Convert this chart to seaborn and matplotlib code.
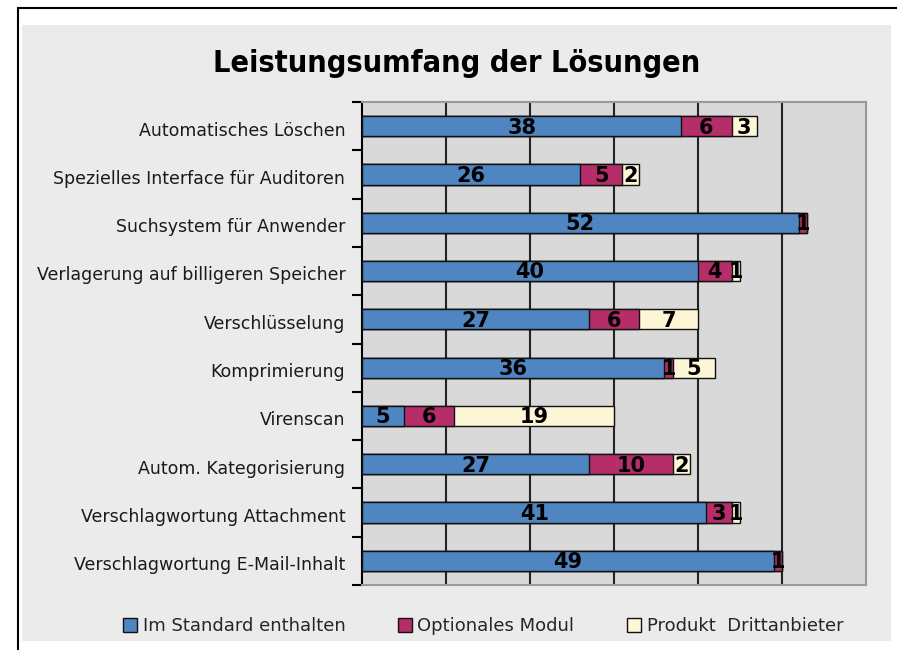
import numpy as np
import pandas as pd
import matplotlib
matplotlib.use('Agg')
import matplotlib.pyplot as plt
import seaborn as sns
from matplotlib.patches import Rectangle

# data
categories = ['Automatisches Löschen', 'Spezielles Interface für Auditoren',
              'Suchsystem für Anwender', 'Verlagerung auf billigeren Speicher',
              'Verschlüsselung', 'Komprimierung', 'Virenscan',
              'Autom. Kategorisierung', 'Verschlagwortung Attachment',
              'Verschlagwortung E-Mail-Inhalt']
standard = [38, 26, 52, 40, 27, 36, 5, 27, 41, 49]
optional = [6, 5, 1, 4, 6, 1, 6, 10, 3, 1]
drittanbieter = [3, 2, 0, 1, 7, 5, 19, 2, 1, 0]
series_names = ['Im Standard enthalten', 'Optionales Modul', 'Produkt  Drittanbieter']
colors = ['#4f86c1', '#b52d69', '#fdf7d7']

df = pd.DataFrame({'cat': categories, 's1': standard, 's2': optional, 's3': drittanbieter})
df['c1'] = df['s1']
df['c2'] = df['s1'] + df['s2']
df['c3'] = df['c2'] + df['s3']

sns.set_style('white')
plt.rcParams['font.family'] = ['DejaVu Sans']

fig = plt.figure(figsize=(8.97, 6.5), dpi=100)
# outer frame (only left and top edges inside the picture)
fig.patches.append(Rectangle((18 / 897, -0.1), 1, 1.1 - 8 / 650, transform=fig.transFigure,
                             facecolor='white', edgecolor='black', linewidth=1.5, zorder=-3))
fig.patches.append(Rectangle((22 / 897, 9 / 650), 869 / 897, 616 / 650, transform=fig.transFigure,
                             facecolor='#ebebeb', edgecolor='none', zorder=-2))

ax = fig.add_axes([362 / 897, 65 / 650, 504 / 897, 483 / 650])
ax.set_facecolor('#d9d9d9')

# stacked bars drawn back to front
for col, color in zip(['c3', 'c2', 'c1'], colors[::-1]):
    sns.barplot(data=df, x=col, y='cat', orient='h', color=color, width=0.42,
                edgecolor='#111111', linewidth=1, saturation=1, ax=ax, zorder=3)

# value labels centred in each segment
for i, row in df.iterrows():
    for val, end in [(row.s1, row.c1), (row.s2, row.c2), (row.s3, row.c3)]:
        if val > 0:
            ax.text(end - val / 2, i + 0.03, str(val), ha='center', va='center',
                    fontsize=15, fontweight='bold', color='black', zorder=5)

ax.set_xlim(0, 60)
ax.set_ylim(9.5, -0.5)
ax.set_xticks([10, 20, 30, 40, 50])
ax.set_xticklabels([])
ax.tick_params(axis='x', length=0)
ax.grid(axis='x', color='#222222', linewidth=1.5, zorder=1)
ax.set_axisbelow(True)

ax.set_yticks(np.arange(-0.5, 10, 1))
ax.set_yticklabels([])
ax.set_yticks(np.arange(len(categories)) + 0.05, minor=True)
ax.set_yticklabels(categories, minor=True, fontsize=12.5, color='#1a1a1a')
ax.tick_params(axis='y', which='major', length=7, width=1.5, color='black', left=True)
ax.tick_params(axis='y', which='minor', length=0, pad=12)
ax.set_xlabel('')
ax.set_ylabel('')

for side in ['top', 'right', 'bottom']:
    ax.spines[side].set_color('#999999')
    ax.spines[side].set_linewidth(1.5)
ax.spines['left'].set_color('black')
ax.spines['left'].set_linewidth(1.5)

fig.text(457 / 897, 1 - 63 / 650, 'Leistungsumfang der Lösungen', ha='center', va='center',
         fontsize=22, fontweight='bold', fontstretch='condensed', color='black')

handles = [Rectangle((0, 0), 1, 1, facecolor=c, edgecolor='#111111', linewidth=1) for c in colors]
fig.legend(handles, series_names, loc='center', bbox_to_anchor=(483 / 897, 1 - 626 / 650),
           ncol=3, frameon=False, fontsize=13, handlelength=0.8, handleheight=0.8,
           handletextpad=0.3, columnspacing=2.9)

fig.savefig('out.png', dpi=100)
